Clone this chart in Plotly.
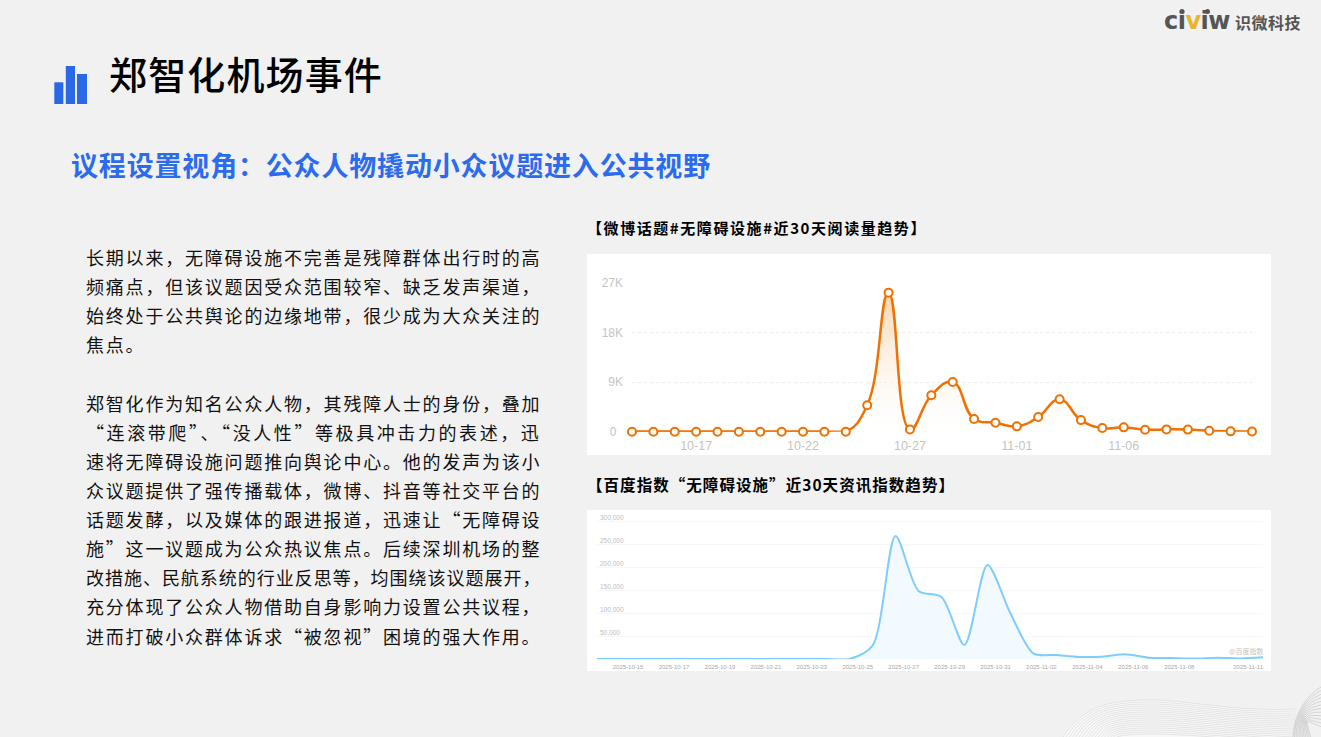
import json
import plotly.graph_objects as go

W, H = 1321, 737
CJK = "Noto Sans CJK SC"
LATIN = "Liberation Sans"

weibo_dates = ["10-14","10-15","10-16","10-17","10-18","10-19","10-20","10-21","10-22","10-23",
               "10-24","10-25","10-26","10-27","10-28","10-29","10-30","10-31","11-01","11-02",
               "11-03","11-04","11-05","11-06","11-07","11-08","11-09","11-10","11-11","11-12"]
weibo_values = [0,0,0,0,0,0,0,0,0,0,0,4780,25200,400,6600,9000,2300,1630,970,2660,
                5870,2100,660,790,360,420,380,180,60,50]
weibo_ticks = ["10-17","10-22","10-27","11-01","11-06"]
weibo_yvals = [0,9000,18000,27000]
weibo_ylabels = ["0\u00a0\u00a0","9K","18K","27K"]

baidu_dates = ["2025-10-14","2025-10-15","2025-10-16","2025-10-17","2025-10-18","2025-10-19","2025-10-20",
               "2025-10-21","2025-10-22","2025-10-23","2025-10-24","2025-10-25","2025-10-26","2025-10-27",
               "2025-10-28","2025-10-29","2025-10-30","2025-10-31","2025-11-01","2025-11-02","2025-11-03",
               "2025-11-04","2025-11-05","2025-11-06","2025-11-07","2025-11-08","2025-11-09","2025-11-10",
               "2025-11-11","2025-11-12"]
baidu_values = [500,500,500,500,500,500,500,600,500,500,500,800,29700,268000,148600,135500,31000,205000,
                100000,13000,9400,5000,5800,10900,3600,3000,1500,3600,2000,4300]
baidu_ticks = ["2025-10-15","2025-10-17","2025-10-19","2025-10-21","2025-10-23","2025-10-25","2025-10-27",
               "2025-10-29","2025-10-31","2025-11-02","2025-11-04","2025-11-06","2025-11-08","2025-11-11"]
baidu_yvals = [50000,100000,150000,200000,250000,300000]
baidu_ylabels = ["50,000","100,000","150,000","200,000","250,000","300,000"]

title = "郑智化机场事件"
subtitle = "议程设置视角：公众人物撬动小众议题进入公共视野"
chart1_title = "【微博话题#无障碍设施#近30天阅读量趋势】"
chart2_title = "【百度指数“无障碍设施”近30天资讯指数趋势】"
body_lines = [
    "长期以来，无障碍设施不完善是残障群体出行时的高",
    "频痛点，但该议题因受众范围较窄、缺乏发声渠道，",
    "始终处于公共舆论的边缘地带，很少成为大众关注的",
    "焦点。",
    "",
    "郑智化作为知名公众人物，其残障人士的身份，叠加",
    "“连滚带爬”、“没人性”等极具冲击力的表述，迅",
    "速将无障碍设施问题推向舆论中心。他的发声为该小",
    "众议题提供了强传播载体，微博、抖音等社交平台的",
    "话题发酵，以及媒体的跟进报道，迅速让“无障碍设",
    "施”这一议题成为公众热议焦点。后续深圳机场的整",
    "改措施、民航系统的行业反思等，均围绕该议题展开，",
    "充分体现了公众人物借助自身影响力设置公共议程，",
    "进而打破小众群体诉求“被忽视”困境的强大作用。",
]
body_rows = [257, 286, 315, 344, None, 403, 432, 461, 490, 519, 548, 577, 606, 636]


def px(x):
    return x / W


def py(y):
    return 1 - y / H


annotations, fits = [], []


def label(text, x, y, size, color="#000000", weight=400, family=CJK, target=None):
    annotations.append(dict(text=text, x=px(x), y=py(y), xref="paper", yref="paper",
                            xanchor="left", yanchor="middle", align="left", showarrow=False,
                            font=dict(size=size, color=color, weight=weight, family=family)))
    fits.append(target)


label(title, 107, 72, 38, weight=500, target=274)
label(subtitle, 69, 164, 27, color="#2b6bef", weight=700, target=640)
label(chart1_title, 585, 228, 15, weight=700, target=340)
label(chart2_title, 585, 484, 15.5, weight=700, target=368)
for line, row in zip(body_lines, body_rows):
    if row is None:
        continue
    target = 23 * 19.8 if len(line) >= 23 else len(line) * 19.8
    label(line, 84, row, 18, color="#111111", target=target)
label('c<span style="color:#555555">i</span><span style="color:#e9b52e">v</span>iw',
      1162, 21, 24, color="#555555", weight=700, family="DejaVu Sans", target=66)
label("识微科技", 1233, 22, 16, color="#555555", weight=700, target=66)
label("@百度指数", 1227, 650.5, 7, color="#c4c4c4")

shapes = []
for x0, y0, x1, y1 in [(587, 254, 1271, 455), (587, 510, 1271, 671)]:
    shapes.append(dict(type="rect", xref="paper", yref="paper", layer="below",
                       x0=px(x0), x1=px(x1), y0=py(y0), y1=py(y1),
                       fillcolor="#ffffff", line=dict(width=0)))
for x0, x1, y0 in [(54.3, 63.3, 82.3), (65.8, 75, 66), (77, 87, 74)]:
    shapes.append(dict(type="rect", xref="paper", yref="paper", layer="below",
                       x0=px(x0), x1=px(x1), y0=py(y0), y1=py(104),
                       fillcolor="#2a68e8", line=dict(width=0)))


def curve(points):
    head = points[0]
    out = f"M {px(head[0]):.5f},{py(head[1]):.5f}"
    for i in range(1, len(points), 3):
        out += " C " + " ".join(f"{px(a):.5f},{py(b):.5f}" for a, b in points[i:i + 3])
    return out


# Decorative wave in the bottom-right corner of the slide
shapes.append(dict(type="path", xref="paper", yref="paper", layer="below",
                   path=curve([(1063, 737), (1082, 708), (1105, 700), (1150, 700),
                               (1190, 700), (1230, 712), (1296, 709), (1296, 720), (1295, 730), (1296, 737)]) + " Z",
                   fillcolor="#f8f8f8", line=dict(width=0)))
for k in range(18):
    d = k * 2.0
    shapes.append(dict(type="path", xref="paper", yref="paper", layer="below",
                       path=curve([(1063 + k * 3.2, 737), (1082 + k * 2, 708 + d), (1105, 700 + d), (1150, 700 + d),
                                   (1190, 700 + d), (1230, 712 + d * 0.8), (1296, 709 + d)]),
                       line=dict(color="#d6d6d6", width=0.6)))
for k in range(12):
    shapes.append(dict(type="path", xref="paper", yref="paper", layer="below",
                       path=curve([(1293 + k * 1.6, 737), (1294 + k, 715), (1305, 697 + k * 2.2), (1321, 687 + k * 3.6)]),
                       line=dict(color="rgba(130,130,130,0.45)", width=0.6)))
for cx, cy in [(1182, 11.5), (1207.5, 11.5)]:
    shapes.append(dict(type="circle", xref="paper", yref="paper", layer="above",
                       x0=px(cx - 2.5), x1=px(cx + 2.5), y0=py(cy - 2.5), y1=py(cy + 2.5),
                       fillcolor="#555555", line=dict(width=0)))

fig = go.Figure()
# The flat run before the rise is drawn straight so the spline cannot disturb it.
fig.add_trace(go.Scatter(
    x=weibo_dates[:11], y=weibo_values[:11], mode="lines", xaxis="x", yaxis="y",
    line=dict(color="#f07000", width=2.5),
    cliponaxis=False, showlegend=False, hoverinfo="skip"))
fig.add_trace(go.Scatter(
    x=weibo_dates, y=weibo_values, mode="lines+markers", xaxis="x", yaxis="y",
    line=dict(color="#f07000", width=2.5, shape="spline", smoothing=1.3, simplify=False),
    marker=dict(size=8, color="#ffffff", line=dict(color="#f07000", width=2)),
    fill="tozeroy",
    fillgradient=dict(type="vertical",
                      colorscale=[[0, "rgba(255,255,255,0.2)"], [1, "rgba(247,214,176,1)"]]),
    cliponaxis=False, showlegend=False, hoverinfo="skip"))
fig.add_trace(go.Scatter(
    x=baidu_dates, y=baidu_values, mode="lines", xaxis="x2", yaxis="y2",
    line=dict(color="#7fcdfd", width=2, shape="spline", smoothing=0.8, simplify=False),
    fill="tozeroy", fillcolor="#f3faff",
    showlegend=False, hoverinfo="skip"))

fig.update_layout(
    width=W, height=H, autosize=False,
    margin=dict(l=0, r=0, t=0, b=0, pad=0, autoexpand=False),
    paper_bgcolor="#f1f1f1", plot_bgcolor="rgba(0,0,0,0)",
    hovermode=False,
    shapes=shapes, annotations=annotations,
    xaxis=dict(domain=[px(632), px(1252)], anchor="y", type="category", range=[0, 29],
               categoryorder="array", categoryarray=weibo_dates,
               tickmode="array", tickvals=weibo_ticks, ticktext=weibo_ticks,
               ticks="", showgrid=False, zeroline=False, showline=False, ticklabelstandoff=5,
               tickfont=dict(family=LATIN, size=12.5, color="#c4c4c4")),
    yaxis=dict(domain=[py(431.7), py(282.7)], anchor="x", range=[0, 27000],
               tickmode="array", tickvals=weibo_yvals, ticktext=weibo_ylabels,
               ticks="", showgrid=True, griddash="dot", gridcolor="#ececec", gridwidth=1,
               zeroline=False, showline=False, ticklabelstandoff=8,
               tickfont=dict(family=LATIN, size=12, color="#c4c4c4")),
    xaxis2=dict(domain=[px(597), px(1263)], anchor="y2", type="date",
                range=[baidu_dates[0], baidu_dates[-1]],
                tickmode="array", tickvals=[d + " 08:30" for d in baidu_ticks], ticktext=baidu_ticks,
                ticks="", showgrid=False, zeroline=False, showline=False, ticklabelstandoff=3,
                tickfont=dict(family=LATIN, size=6, color="#a8a8a8")),
    yaxis2=dict(domain=[py(659.3), py(512.1)], anchor="x2", range=[0, 320000],
                tickmode="array", tickvals=baidu_yvals, ticktext=baidu_ylabels,
                ticks="", showgrid=True, gridcolor="#f7f7f7", gridwidth=1,
                zeroline=False, showline=False, ticklabelposition="inside",
                ticklabelshift=-4, ticklabelstandoff=0,
                tickfont=dict(family=LATIN, size=6.5, color="#bdbdbd")),
)

post = """
document.body.style.margin = '0';
document.body.style.overflow = 'hidden';
var fits = %s;
document.querySelectorAll('g.annotation').forEach(function (g) {
  var i = +g.getAttribute('data-index');
  var t = g.querySelector('text.annotation-text');
  if (!t || !fits[i]) return;
  var len = t.getComputedTextLength();
  var n = t.textContent.length;
  t.style.letterSpacing = ((fits[i] - len) / n) + 'px';
});
""" % json.dumps(fits)

fig.write_html("out.html", post_script=post, config={"displayModeBar": False, "staticPlot": True})
